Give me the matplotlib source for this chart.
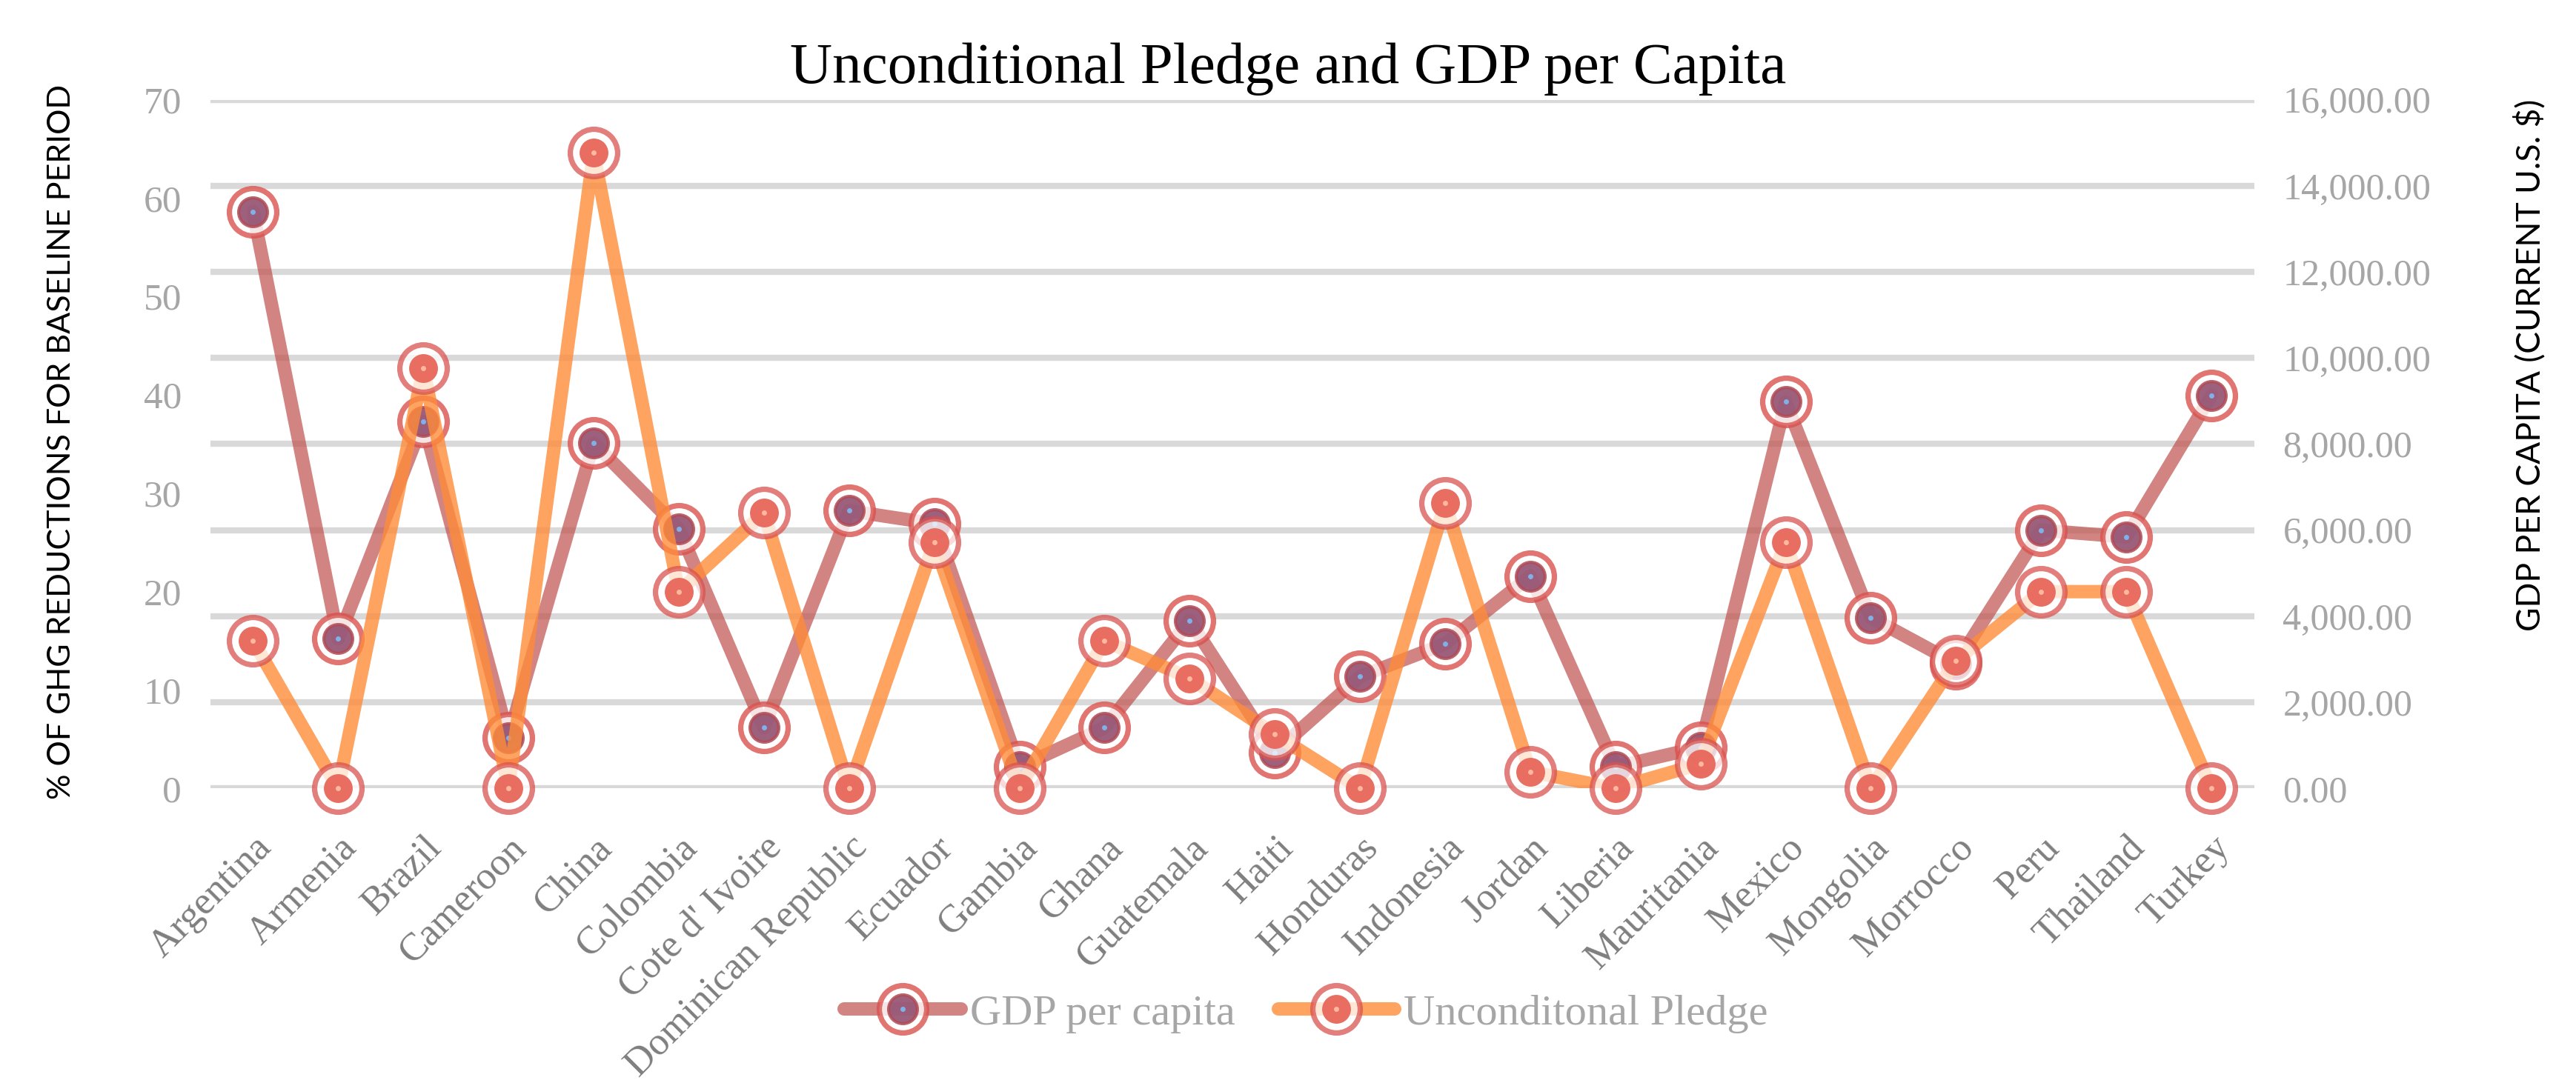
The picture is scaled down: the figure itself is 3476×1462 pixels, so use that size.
import matplotlib.pyplot as plt
from matplotlib.ticker import FuncFormatter

countries = ['Argentina', 'Armenia', 'Brazil', 'Cameroon', 'China', 'Colombia',
             "Cote d' Ivoire", 'Dominican Republic', 'Ecuador', 'Gambia', 'Ghana',
             'Guatemala', 'Haiti', 'Honduras', 'Indonesia', 'Jordan', 'Liberia',
             'Mauritania', 'Mexico', 'Mongolia', 'Morrocco', 'Peru', 'Thailand', 'Turkey']
pledge = [15, 0, 42.7, 0, 64.6, 20, 28, 0, 25, 0, 15, 11.2, 5.5, 0, 29, 1.7, 0,
          2.5, 25, 0, 13, 20, 20, 0]
gdp = [13400, 3480, 8520, 1180, 8020, 6030, 1410, 6450, 6150, 500, 1410, 3900,
       840, 2600, 3360, 4930, 500, 960, 8980, 3970, 2900, 6000, 5840, 9130]

serif = 'Liberation Serif'
sans = 'Lato'
x = list(range(len(countries)))

fig = plt.figure(figsize=(17.38, 7.31), dpi=200)
ax = fig.add_axes([0.0817, 0.272, 0.7933, 0.636])
ax2 = ax.twinx()
ax.set_zorder(ax2.get_zorder() + 1)
ax.patch.set_visible(False)

ring = '#d9534f'

# GDP per capita on the right axis
l1, = ax2.plot(x, gdp, color='#c0504d', alpha=0.7, lw=6.5, solid_capstyle='round', zorder=2)
r1, = ax2.plot(x, gdp, 'o', ms=23, mfc='white', mec=ring, mew=2.6, alpha=0.8, ls='none', clip_on=False, zorder=3)
d1, = ax2.plot(x, gdp, 'o', ms=14, mfc='#8c4466', mec='#b04a55', mew=1.5, alpha=0.85, ls='none', clip_on=False, zorder=4)
c1, = ax2.plot(x, gdp, 'o', ms=2.5, mfc='#7fb0e8', mec='none', ls='none', clip_on=False, zorder=5)

# unconditional pledge on the left axis
l2, = ax.plot(x, pledge, color='#ff8c3a', alpha=0.8, lw=6.5, solid_capstyle='round', zorder=2)
r2, = ax.plot(x, pledge, 'o', ms=23, mfc='white', mec=ring, mew=2.6, alpha=0.75, ls='none', clip_on=False, zorder=3)
d2, = ax.plot(x, pledge, 'o', ms=14, mfc='#e8665a', mec='none', alpha=0.95, ls='none', clip_on=False, zorder=4)
c2, = ax.plot(x, pledge, 'o', ms=2.5, mfc='#ffb8a0', mec='none', ls='none', clip_on=False, zorder=5)

ax.set_xlim(-0.5, len(countries) - 0.5)
ax.set_ylim(0, 70)
ax2.set_ylim(0, 16000)
ax.set_yticks(range(0, 71, 10))
ax2.set_yticks(range(0, 16001, 2000))
ax2.yaxis.set_major_formatter(FuncFormatter(lambda v, p: f'{v:,.2f}'))

ax2.grid(axis='y', color='#d9d9d9', lw=3)
ax2.set_axisbelow(True)
for a in (ax, ax2):
    for s in a.spines.values():
        s.set_visible(False)
    a.tick_params(length=0)

ax.set_xticks(x)
ax.set_xticklabels(countries, rotation=45, ha='right', rotation_mode='anchor',
                   fontsize=19, family=serif, color='#7f7f7f')
ax.tick_params(axis='x', pad=20)
ax.tick_params(axis='y', pad=14, labelsize=18.5, labelcolor='#a6a6a6')
ax2.tick_params(axis='y', pad=14, labelsize=18, labelcolor='#a6a6a6')
for t in ax.get_yticklabels() + ax2.get_yticklabels():
    t.set_family(serif)

fig.text(0.5, 0.936, 'Unconditional Pledge and GDP per Capita', ha='center', va='center',
         fontsize=28.5, family=serif, color='black')
fig.text(0.024, 0.592, '% OF GHG REDUCTIONS FOR BASELINE PERIOD', rotation=90,
         ha='center', va='center', fontsize=15.5, family=sans, color='black')
fig.text(0.982, 0.663, 'GDP PER CAPITA (CURRENT U.S. $)', rotation=90,
         ha='center', va='center', fontsize=16, family=sans, color='black')

leg = fig.legend([(l1, r1, d1, c1), (l2, r2, d2, c2)], ['GDP per capita', 'Unconditonal Pledge'],
                 loc='center', bbox_to_anchor=(0.507, 0.064), ncol=2, frameon=False,
                 handlelength=2.7, columnspacing=1.0, handletextpad=0.2,
                 prop={'family': serif, 'size': 21})
for t in leg.get_texts():
    t.set_color('#a6a6a6')

fig.savefig('out.png', dpi=200)
